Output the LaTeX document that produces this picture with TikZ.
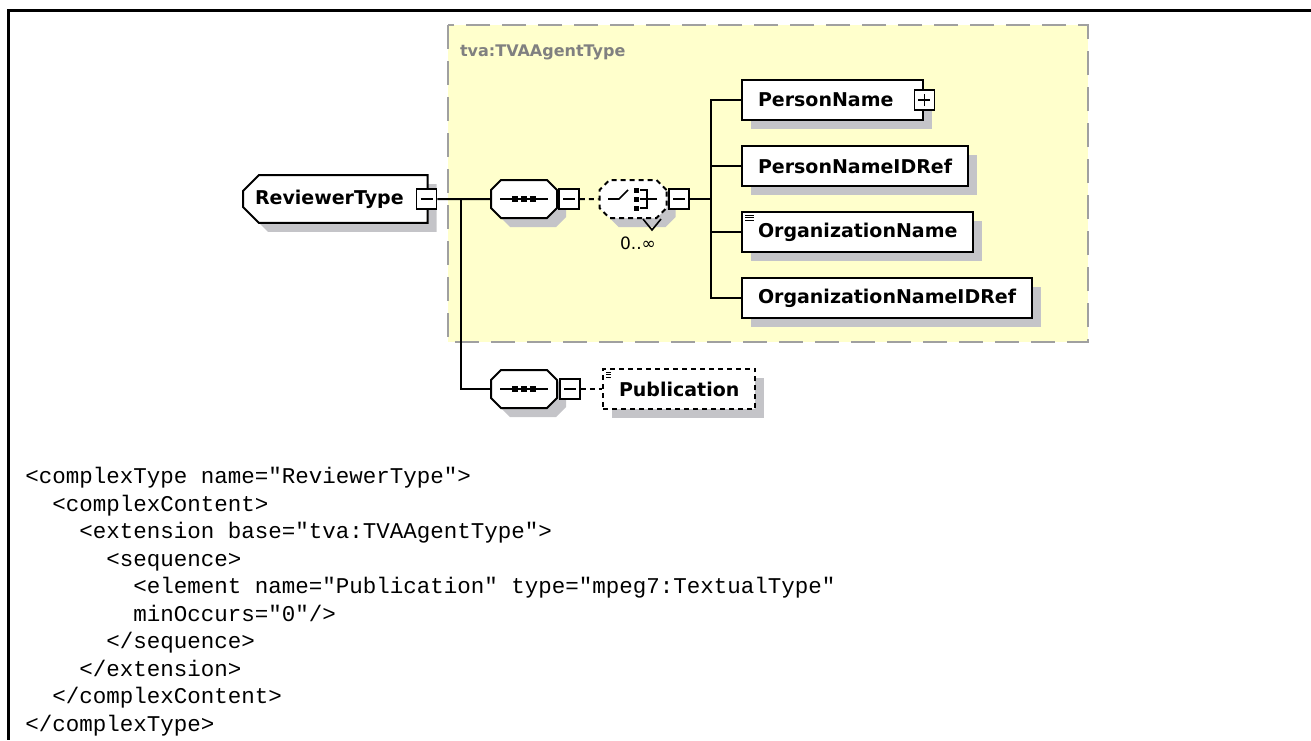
\documentclass[tikz,border=0pt]{standalone}
\usepackage{fontspec}
\newfontfamily\diagfont{DejaVu Sans}
\newfontfamily\codefont{Liberation Mono}
\usetikzlibrary{shapes.misc, positioning, calc}
\definecolor{agentfill}{HTML}{FFFFCC}
\definecolor{agentdash}{HTML}{A0A0A0}
\definecolor{agentlabel}{HTML}{808080}
\definecolor{shadowgray}{HTML}{C4C4C8}

\begin{document}
\begin{tikzpicture}[x=0.5pt, y=-0.5pt,
    shadowed/.style={preaction={draw=none, fill=shadowgray, transform canvas={shift={(4.5pt,-4.5pt)}}}},
    elem/.style={draw, fill=white, line width=1pt, shadowed, minimum height=20pt, inner xsep=8pt, anchor=west, font=\diagfont\bfseries\fontsize{9.5}{11}\selectfont},
    optional/.style={dash pattern=on 2.5pt off 2pt},
    compositor/.style={chamfered rectangle, chamfered rectangle sep=2.5pt, draw, fill=white, line width=1pt, shadowed, inner sep=0pt},
    togglebox/.style={draw, fill=white, line width=0.8pt, minimum size=10pt, inner sep=0pt},
    minusbox/.style={togglebox, path picture={\draw[line width=0.8pt] ([xshift=2pt]path picture bounding box.west) -- ([xshift=-2pt]path picture bounding box.east);}},
    plusbox/.style={togglebox, path picture={\draw[line width=0.8pt] ([xshift=2pt]path picture bounding box.west) -- ([xshift=-2pt]path picture bounding box.east) ([yshift=2pt]path picture bounding box.south) -- ([yshift=-2pt]path picture bounding box.north);}},
    textonly/.style={path picture={\foreach \dy in {1.5pt, 2.9pt, 4.3pt} \draw[line width=0.5pt] ([xshift=1.5pt, yshift=-\dy]path picture bounding box.north west) -- ++(4.5pt,0);}},
    link/.style={line width=1pt},
    code/.style={font=\codefont\fontsize{11.25}{13.75}\selectfont, align=left, inner sep=0pt, anchor=north west}
]
    \useasboundingbox (0,0) rectangle (1311,740);

    % Frame
    \draw[line width=1.5pt] (1311,10) -- (8,10) -- (8,740);

    % Base type
    \draw[fill=agentfill, draw=agentdash, line width=1pt, dash pattern=on 12pt off 6pt] (448,25) rectangle (1088,342);
    \node[anchor=west, text=agentlabel, font=\diagfont\bfseries\fontsize{8}{10}\selectfont] (agentname) at (453,52) {tva:TVAAgentType};

    % Root
    \node[elem, chamfered rectangle, chamfered rectangle corners={north west, south west}, chamfered rectangle sep=4pt, minimum height=19pt, inner xsep=2pt] (reviewer) at (242,199) {ReviewerType\hspace*{6pt}};
    \node[minusbox] (reviewertoggle) at ([xshift=-1pt]reviewer.east) {};

    % Sequence and choice
    \node[compositor] (seqa) at (524,199) {\hspace*{28pt}\rule{0pt}{14pt}};
    \node[minusbox] (seqatoggle) at (569,199) {};
    \node[compositor, optional] (choice) at (633,199) {\hspace*{28.5pt}\rule{0pt}{14pt}};
    \node[minusbox] (choicetoggle) at (679,199) {};
    \node[font=\diagfont\fontsize{8.5}{10}\selectfont] (choicemult) at (638,243) {0..∞};

    % Children
    \node[elem] (personname) at (741,100) {PersonName\hspace*{7pt}};
    \node[plusbox] (persontoggle) at (personname.east) {};
    \node[elem] (personidref) at (741,166) {PersonNameIDRef};
    \node[elem, textonly] (orgname) at (741,232) {OrganizationName};
    \node[elem] (orgidref) at (741,298) {OrganizationNameIDRef};

    % Extension
    \node[compositor] (seqb) at (524,389) {\hspace*{28pt}\rule{0pt}{14pt}};
    \node[minusbox] (seqbtoggle) at (570,389) {};
    \node[elem, optional, textonly] (publication) at (602,389) {Publication};

    % Connectors
    \coordinate (split) at (461,199);
    \coordinate (fan) at (711,199);
    \draw[link] (reviewertoggle) -- (seqa);
    \draw[link] (split) |- (seqb);
    \draw[link, optional] (seqatoggle) -- (choice);
    \draw[link] (choicetoggle) -- (fan);
    \foreach \c in {personname, personidref, orgname, orgidref}
        \draw[link] (fan) |- (\c.west);
    \draw[link, optional] (seqbtoggle) -- (publication);

    % Icons
    \foreach \s in {seqa, seqb} {
        \draw[line width=0.8pt] ([xshift=-12pt]\s.center) -- ([xshift=12pt]\s.center);
        \foreach \dx in {-4.5pt, 0pt, 4.5pt}
            \fill ([xshift=\dx]\s.center) ++(-3,-3) rectangle ++(6,6);
    }
    \draw[line width=0.8pt] ([xshift=-12.5pt]choice.center) -- ++(11,0) -- ++(9,-9);
    \foreach \dy in {-9,0,9}
        \fill ([xshift=1.5pt]choice.center) ++(-2.5,\dy-2.5) rectangle ++(5,5);
    \draw[line width=0.8pt] ([shift={(7,-9)}]choice.center) -- ++(7,0) -- ++(0,18) -- ++(-7,0);
    \draw[line width=0.8pt] ([xshift=3.5pt]choice.center) -- ++(17,0);
    \draw[line width=0.8pt] ([xshift=5pt]choice.south) -- ++(9,11) -- ++(9,-11);

    % Schema source
    \node[code] (xmlsrc) at (25,467) {<complexType name="ReviewerType">\\
\phantom{mm}<complexContent>\\
\phantom{mmmm}<extension base="tva:TVAAgentType">\\
\phantom{mmmmmm}<sequence>\\
\phantom{mmmmmmmm}<element name="Publication" type="mpeg7:TextualType"\\
\phantom{mmmmmmmm}minOccurs="0"/>\\
\phantom{mmmmmm}</sequence>\\
\phantom{mmmm}</extension>\\
\phantom{mm}</complexContent>\\
</complexType>};
\end{tikzpicture}
\end{document}
